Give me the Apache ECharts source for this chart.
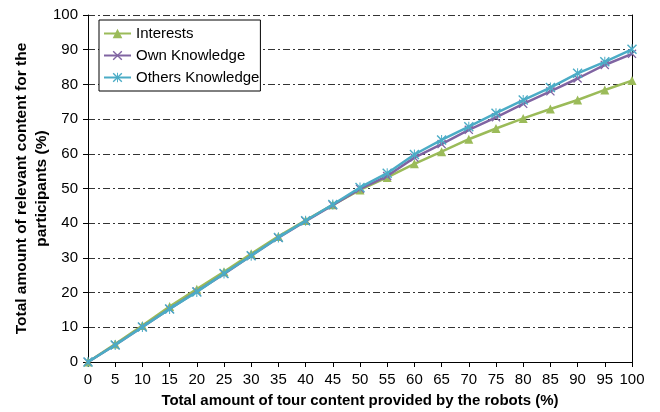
<!DOCTYPE html>
<html>
<head>
<meta charset="utf-8">
<script src="https://cdn.jsdelivr.net/npm/echarts@6/dist/echarts.min.js"></script>
<style>
  html, body { margin: 0; padding: 0; background: #fff; }
  #chart { width: 660px; height: 412px; }
</style>
</head>
<body>
<div id="chart"></div>
<script>
// x positions (% of tour content)
var xs = [0, 5, 10, 15, 20, 25, 30, 35, 40, 45, 50, 55, 60, 65, 70, 75, 80, 85, 90, 95, 100];
var interests = [0, 5.2, 10.5, 16, 21, 26, 31.2, 36.2, 40.8, 45.3, 49.6, 53.2, 57.1, 60.6, 64.2, 67.3, 70.2, 72.9, 75.5, 78.4, 81.1];
var ownKnowledge = [0, 4.9, 10.1, 15.3, 20.3, 25.4, 30.6, 35.8, 40.6, 45.2, 49.9, 53.6, 58.9, 62.8, 66.9, 70.5, 74.4, 78, 81.7, 85.6, 88.8];
var othersKnowledge = [0, 4.9, 10.1, 15.3, 20.2, 25.5, 30.6, 35.9, 40.7, 45.4, 50.3, 54.4, 59.8, 64, 67.8, 71.7, 75.5, 79.1, 83.2, 86.5, 90.1];
var seriesNames = ["Interests", "Own Knowledge", "Others Knowledge"];
var colors = ["#9BBB59", "#8064A2", "#4BACC6"];

var xSymbol = "path://M0,1L1,0L5,4L9,0L10,1L6,5L10,9L9,10L5,6L1,10L0,9L4,5Z";
var starSymbol = "path://M0,1L1,0L5,4L9,0L10,1L6,5L10,9L9,10L5,6L1,10L0,9L4,5Z M4.5,0L5.5,0L5.5,3.8L4.5,3.8Z M4.5,6.2L5.5,6.2L5.5,10L4.5,10Z";

function pairs(arr) {
    return xs.map(function (x, i) { return [x, arr[i]]; });
}

var chart = echarts.init(document.getElementById("chart"));
var font = "Liberation Sans, Arial, sans-serif";
var option = {
    backgroundColor: "#fff",
    animation: false,
    textStyle: { fontFamily: font },
    grid: { left: 88, right: 28, top: 15, bottom: 50, outerBoundsMode: "none", containLabel: false },
    legend: {
        orient: "vertical",
        left: 99,
        top: 20,
        backgroundColor: "#fff",
        borderColor: "#000",
        borderWidth: 1,
        padding: [6, 1, 6, 4],
        itemWidth: 27,
        itemHeight: 12,
        itemGap: 7,
        textStyle: { fontFamily: font, fontSize: 15, color: "#000" },
        data: seriesNames
    },
    xAxis: {
        type: "value",
        min: 0,
        max: 100,
        interval: 5,
        name: "Total amount of tour content provided by the robots (%)",
        nameLocation: "middle",
        nameGap: 31,
        nameMoveOverlap: false,
        nameTextStyle: { fontFamily: font, fontSize: 15, fontWeight: "bold", color: "#000" },
        axisLine: { lineStyle: { color: "#000", width: 1 } },
        axisTick: { show: true, inside: false, length: 5, lineStyle: { color: "#000" } },
        axisLabel: { fontFamily: font, fontSize: 15, color: "#000", margin: 10 },
        splitLine: { show: false }
    },
    yAxis: [{
        type: "value",
        min: 0,
        max: 100,
        interval: 10,
        name: "Total amount of relevant content for the\nparticipants (%)",
        nameLocation: "middle",
        nameGap: 36,
        nameMoveOverlap: false,
        nameTextStyle: { fontFamily: font, fontSize: 15.5, fontWeight: "bold", color: "#000", lineHeight: 20 },
        axisLine: { show: true, lineStyle: { color: "#000", width: 1 } },
        axisTick: { show: true, length: 5, lineStyle: { color: "#000" } },
        axisLabel: { fontFamily: font, fontSize: 15, color: "#000", margin: 10 },
        splitLine: {
            show: true,
            lineStyle: { color: "#333", width: 1, type: [7, 3, 2, 3] }
        }
    }, {
        type: "value",
        position: "right",
        min: 0,
        max: 100,
        interval: 10,
        axisLine: { show: true, lineStyle: { color: "#000", width: 1 } },
        axisTick: { show: false },
        axisLabel: { show: false },
        splitLine: { show: false }
    }],
    series: [
        {
            name: seriesNames[0],
            type: "line",
            data: pairs(interests),
            symbol: "triangle",
            symbolSize: 9,
            color: colors[0],
            lineStyle: { width: 2.5 },
            z: 2
        },
        {
            name: seriesNames[1],
            type: "line",
            data: pairs(ownKnowledge),
            symbol: xSymbol,
            symbolSize: 9,
            color: colors[1],
            lineStyle: { width: 2.5 },
            z: 3
        },
        {
            name: seriesNames[2],
            type: "line",
            data: pairs(othersKnowledge),
            symbol: starSymbol,
            symbolSize: 10,
            color: colors[2],
            lineStyle: { width: 2.5 },
            z: 4
        }
    ]
};
chart.setOption(option);
</script>
</body>
</html>
